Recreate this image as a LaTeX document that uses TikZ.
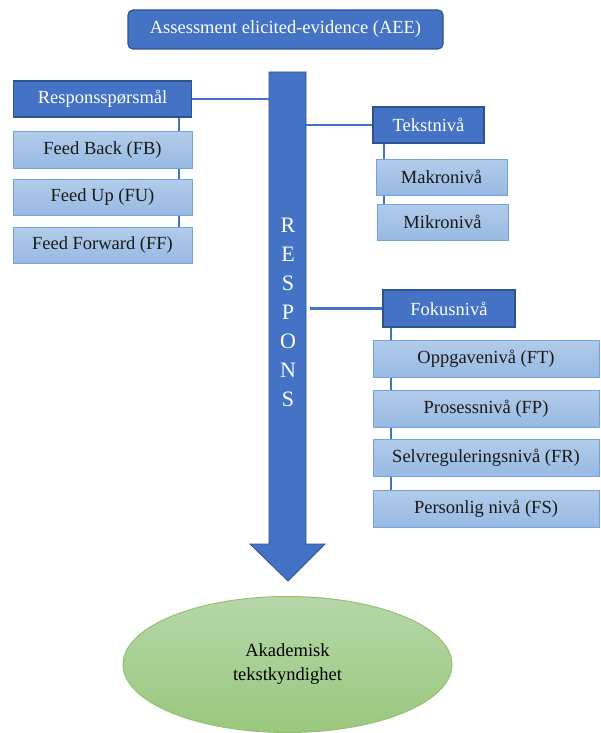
\documentclass[tikz,border=0pt]{standalone}
\usepackage{fontspec}
\setmainfont{Liberation Serif}
\usetikzlibrary{shapes.geometric}
\definecolor{mblue}{HTML}{4472C4}
\definecolor{dblue}{HTML}{2F528F}
\definecolor{ltop}{HTML}{B2CBEA}
\definecolor{lbot}{HTML}{98BAE3}
\definecolor{lborder}{HTML}{74A2DA}
\definecolor{gtop}{HTML}{B6D7A8}
\definecolor{gbot}{HTML}{9BC77E}
\definecolor{gborder}{HTML}{93C171}
\tikzset{
  txt/.style={font=\fontsize{18.5}{22}\selectfont},
  mainbox/.style={txt, draw=dblue, line width=1.2pt, fill=mblue, text=white, minimum height=36pt, inner sep=0pt},
  subbox/.style={txt, draw=lborder, line width=1pt, top color=ltop, bottom color=lbot, text=black!90, minimum height=36pt, inner sep=0pt},
  conn/.style={draw=mblue, line width=2.4pt}
}
\begin{document}
\begin{tikzpicture}[x=1pt,y=-1pt]
\useasboundingbox (0,0) rectangle (600,733);
% top box
\node[txt, draw=dblue, line width=1.2pt, fill=mblue, text=white, rounded corners=5pt, minimum width=315pt, minimum height=39pt, inner sep=0pt] (aee) at (285.5,29.5) {Assessment elicited-evidence (AEE)};
% arrow
\coordinate (sl) at (269,0);
\coordinate (sr) at (306,0);
\filldraw[fill=mblue, draw=dblue, line width=0.8pt] (269,72) -- (306,72) -- (306,544) -- (325,544) -- (288,581) -- (250,544) -- (269,544) -- cycle;
\node[text=white, font=\fontsize{22}{29}\selectfont, align=center, inner sep=0pt] (respons) at (288,312) {R\\E\\S\\P\\O\\N\\S};
% left group
\coordinate (lx) at (179,0);
\draw[conn] (179,110) -- (179,235);
\node[mainbox, minimum width=178pt] (rs) at (102.5,99) {Responsspørsmål};
\node[subbox, minimum width=179pt] (fb) at (102.5,150) {Feed Back (FB)};
\node[subbox, minimum width=179pt] (fu) at (102.5,197) {Feed Up (FU)};
\node[subbox, minimum width=179pt] (ff) at (102.5,245) {Feed Forward (FF)};
\draw[conn] (rs.east) -- (rs.east -| sl);
% tekst group
\draw[conn] (384,135) -- (384,215);
\node[mainbox, minimum width=111pt] (tek) at (428.5,125) {Tekstnivå};
\node[subbox, minimum width=131pt] (mak) at (441.5,177) {Makronivå};
\node[subbox, minimum width=131pt] (mik) at (442.5,222) {Mikronivå};
\draw[conn] (tek.west) -- (tek.west -| sr);
% fokus group
\draw[conn] (391,320) -- (391,500);
\node[mainbox, minimum width=132pt, minimum height=37pt] (fok) at (449,308.5) {Fokusnivå};
\node[subbox, minimum width=226pt, minimum height=37pt] (opp) at (486,358.5) {Oppgavenivå (FT)};
\node[subbox, minimum width=226pt, minimum height=37pt] (pro) at (486,408.5) {Prosessnivå (FP)};
\node[subbox, minimum width=226pt, minimum height=37pt] (sel) at (486,458) {Selvreguleringsnivå (FR)};
\node[subbox, minimum width=226pt, minimum height=37pt] (per) at (486,508.5) {Personlig nivå (FS)};
\coordinate (fs) at (310,0);
\draw[conn] (fok.west) -- (fok.west -| fs);
% ellipse
\node[ellipse, draw=gborder, line width=1pt, top color=gtop, bottom color=gbot, minimum width=329pt, minimum height=136pt, inner sep=0pt, txt, align=center, font=\fontsize{18.5}{24}\selectfont] (ak) at (287.5,664.5) {Akademisk\\tekstkyndighet};
\end{tikzpicture}
\end{document}
